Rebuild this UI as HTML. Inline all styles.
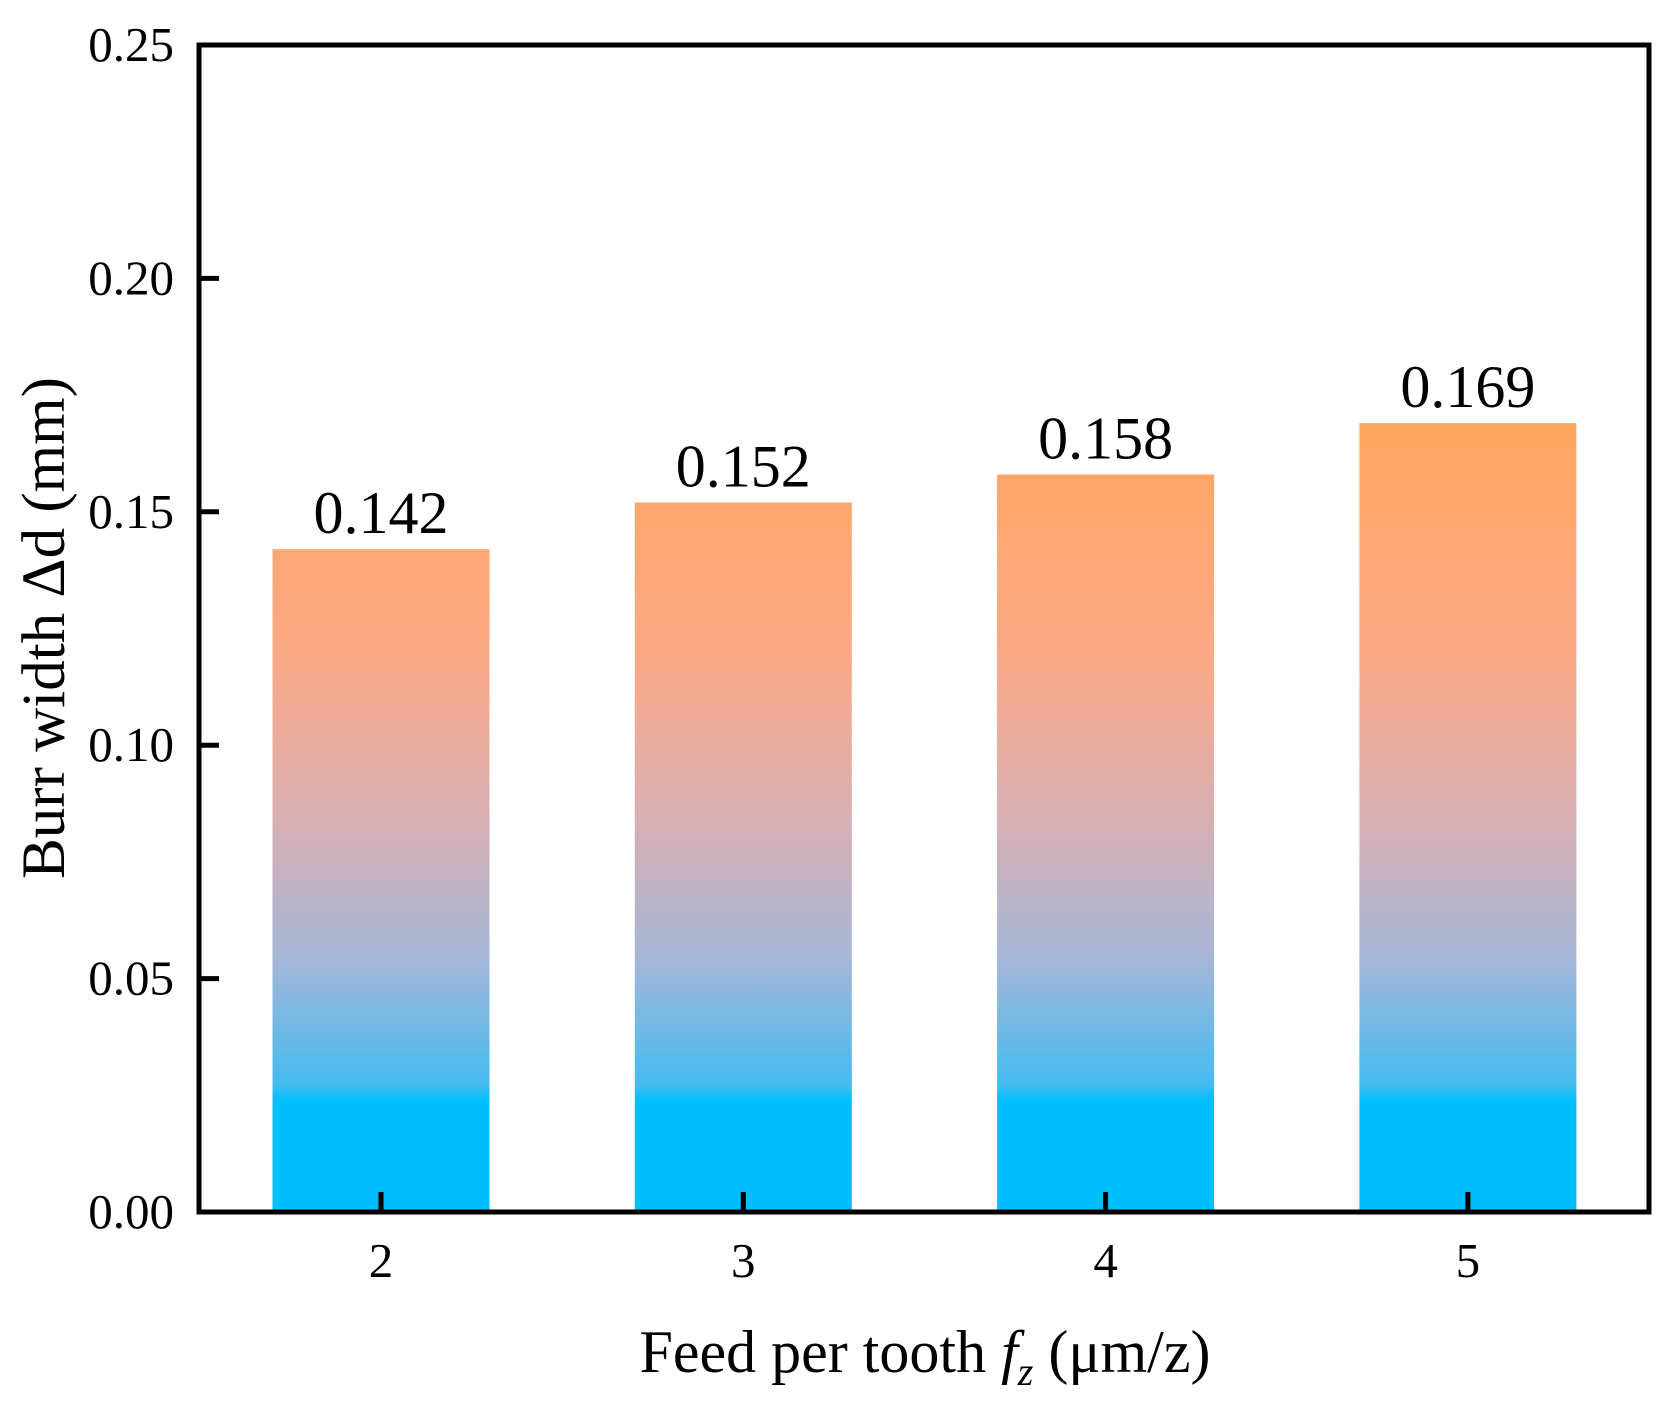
<!DOCTYPE html>
<html><head><meta charset="utf-8"><style>
html,body{margin:0;padding:0;background:#fff;}
svg{display:block;font-family:"Liberation Serif",serif;}
</style></head><body>
<svg id="chart" width="1677" height="1411" viewBox="0 0 1677 1411" xmlns="http://www.w3.org/2000/svg">
<defs>
<linearGradient id="grad" gradientUnits="userSpaceOnUse" x1="0" y1="420" x2="0" y2="1212">
<stop offset="0" stop-color="#FFA65E"/>
<stop offset="0.3" stop-color="#FBA886"/>
<stop offset="0.5" stop-color="#D9AFB2"/>
<stop offset="0.68" stop-color="#A6B6D6"/>
<stop offset="0.84" stop-color="#44BBF2"/>
<stop offset="0.86" stop-color="#00BFFF"/>
<stop offset="1" stop-color="#00BFFF"/>
</linearGradient>
</defs>
<g id="bars"></g>
<g id="axes"></g>
<text transform="translate(64,628) rotate(-90)" text-anchor="middle" font-size="61">Burr width Δd (mm)</text>
<text x="925" y="1372" text-anchor="middle" font-size="60">Feed per tooth <tspan font-style="italic">f</tspan><tspan font-style="italic" font-size="40" dy="13">z</tspan><tspan dy="-13"> (μm/z)</tspan></text>
</svg>
<script>
const categories = ["2", "3", "4", "5"];
const values = [0.142, 0.152, 0.158, 0.169];
const valueLabels = ["0.142", "0.152", "0.158", "0.169"];
const yTicks = [0, 0.05, 0.10, 0.15, 0.20, 0.25];
const yTickLabels = ["0.00", "0.05", "0.10", "0.15", "0.20", "0.25"];

const NS = "http://www.w3.org/2000/svg";
const L = 199, R = 1649, T = 45, B = 1212;
const yMax = 0.25;
function y(v){ return B - (v / yMax) * (B - T); }
const x0 = 381, step = 362.3;
function x(i){ return x0 + i * step; }
const barW = 217;

function mk(tag, attrs, parent){
  const e = document.createElementNS(NS, tag);
  for (const k in attrs) e.setAttribute(k, attrs[k]);
  parent.appendChild(e);
  return e;
}
const gb = document.getElementById('bars');
const ga = document.getElementById('axes');

values.forEach((v, i) => {
  const r = mk('rect', {x: x(i) - barW/2, y: y(v), width: barW, height: B - y(v), fill: 'url(#grad)'}, gb);
  
  
  const t = mk('text', {x: x(i), y: y(v) - 16, 'text-anchor': 'middle', 'font-size': '60'}, gb);
  t.textContent = valueLabels[i];
  
  
});

const frame = mk('rect', {x: L, y: T, width: R - L, height: B - T, fill: 'none', stroke: '#000', 'stroke-width': 5}, ga);



yTicks.forEach((v, i) => {
  const ln = mk('line', {x1: L, x2: L + 20, y1: y(v), y2: y(v), stroke: '#000', 'stroke-width': 5}, ga);
  
  
  const t = mk('text', {x: 174, y: y(v) + 16, 'text-anchor': 'end', 'font-size': '49'}, ga);
  t.textContent = yTickLabels[i];
  
  
});

categories.forEach((c, i) => {
  const ln = mk('line', {x1: x(i), x2: x(i), y1: B, y2: B - 20, stroke: '#000', 'stroke-width': 5}, ga);
  
  
  const t = mk('text', {x: x(i), y: 1277, 'text-anchor': 'middle', 'font-size': '49'}, ga);
  t.textContent = c;
  
  
});
</script>
</body></html>
